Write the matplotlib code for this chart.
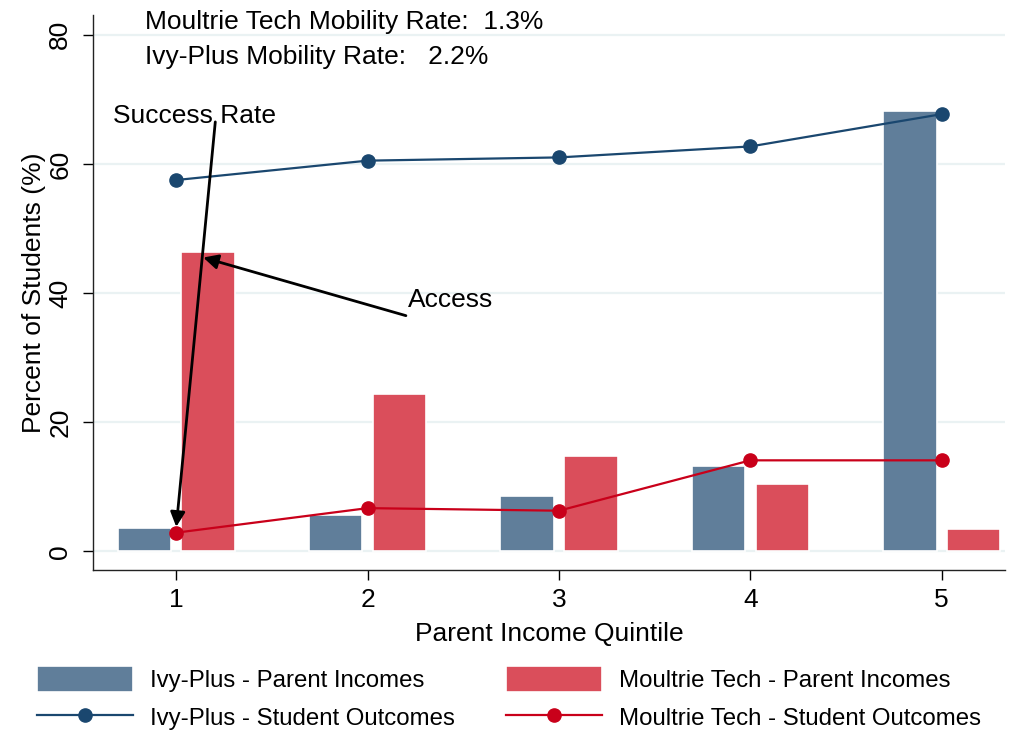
import matplotlib
matplotlib.use("Agg")
import matplotlib.pyplot as plt
import numpy as np

plt.rcParams['font.family'] = ['Liberation Sans', 'DejaVu Sans']

quintiles = [1, 2, 3, 4, 5]
ivy_parent = [3.6, 5.6, 8.6, 13.2, 68.2]
mt_parent = [46.3, 24.4, 14.7, 10.4, 3.4]
ivy_outcome = [57.5, 60.5, 61.0, 62.7, 67.7]
mt_outcome = [2.9, 6.7, 6.3, 14.1, 14.1]
yticks = [0, 20, 40, 60, 80]
mobility_lines = ["Moultrie Tech Mobility Rate:  1.3%", "Ivy-Plus Mobility Rate:   2.2%"]

c_ivy_bar = '#607e9a'
c_mt_bar = '#da4e5b'
c_ivy_line = '#1a476f'
c_mt_line = '#c9001a'
c_grid = '#eaf2f3'

FS = 19

fig = plt.figure(figsize=(10.13, 7.3), dpi=100)
ax = fig.add_axes([0.092, 0.219, 0.9, 0.76])

x = np.array(quintiles, dtype=float)
w = 0.28
b1 = ax.bar(x - 0.167, ivy_parent, width=w, color=c_ivy_bar, edgecolor='white', linewidth=1.2, zorder=2,
            label='Ivy-Plus - Parent Incomes')
b2 = ax.bar(x + 0.167, mt_parent, width=w, color=c_mt_bar, edgecolor='white', linewidth=1.2, zorder=2,
            label='Moultrie Tech - Parent Incomes')
l1, = ax.plot(x, ivy_outcome, '-o', color=c_ivy_line, lw=1.6, ms=9.5, zorder=3,
              label='Ivy-Plus - Student Outcomes')
l2, = ax.plot(x, mt_outcome, '-o', color=c_mt_line, lw=1.6, ms=9.5, zorder=3,
              label='Moultrie Tech - Student Outcomes')

ax.set_xlim(0.566, 5.33)
ax.set_ylim(-2.9, 83)
ax.set_yticks(yticks)
ax.set_yticklabels([str(t) for t in yticks], rotation=90, va='center')
ax.set_xticks(quintiles)
ax.tick_params(axis='both', labelsize=FS, length=7, width=1, direction='out')
ax.tick_params(axis='y', pad=8)
ax.tick_params(axis='x', pad=6)
ax.yaxis.grid(True, color=c_grid, lw=1.6, zorder=0)
ax.set_axisbelow(True)
for s in ['top', 'right']:
    ax.spines[s].set_visible(False)
for s in ['left', 'bottom']:
    ax.spines[s].set_linewidth(1.0)
    ax.spines[s].set_color('#222222')

ax.set_xlabel('Parent Income Quintile', fontsize=FS, labelpad=7)
ax.set_ylabel('Percent of Students (%)', fontsize=FS, labelpad=2)

ax.text(0.838, 82.0, mobility_lines[0], fontsize=FS, va='center', ha='left')
ax.text(0.838, 76.6, mobility_lines[1], fontsize=FS, va='center', ha='left')

arrowkw = dict(arrowstyle='-|>', lw=2, color='black', mutation_scale=22, shrinkA=0, shrinkB=0)
ax.annotate('', xy=(1.0, 3.8), xytext=(1.204, 66.5), arrowprops=arrowkw, zorder=5)
ax.text(0.67, 67.4, 'Success Rate', fontsize=FS, va='center', ha='left')
ax.annotate('', xy=(1.141, 45.5), xytext=(2.20, 36.5), arrowprops=arrowkw, zorder=5)
ax.text(2.21, 38.9, 'Access', fontsize=FS, va='center', ha='left')

fig.legend(handles=[b1, l1, b2, l2], loc='lower left', bbox_to_anchor=(0.015, -0.03), ncol=2,
           frameon=False, fontsize=17.3, handlelength=4.0, handleheight=1.3, columnspacing=2.15,
           labelspacing=0.5, handletextpad=0.7)

fig.savefig('out.png', dpi=100, facecolor='white')
